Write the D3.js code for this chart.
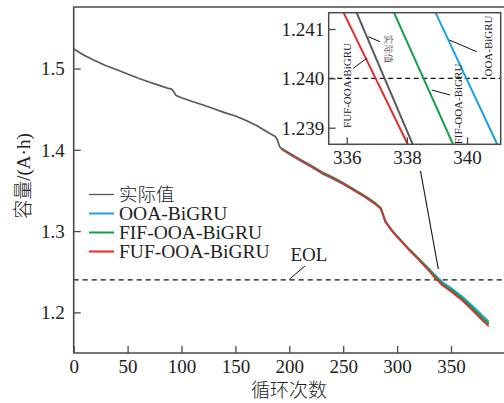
<!DOCTYPE html>
<html>
<head>
<meta charset="utf-8">
<script src="https://cdn.jsdelivr.net/npm/d3@7/dist/d3.min.js"></script>
<style>
  html, body { margin: 0; padding: 0; background: #fff; }
  svg { display: block; }
  text { font-family: "Liberation Serif", "Times New Roman", serif; fill: #222; }
</style>
</head>
<body>
<script>
// Measured battery capacity (A·h) versus cycle number
const actualCycles = [0, 10, 20, 30, 40, 50, 60, 70, 80, 88, 91, 93, 95, 100, 110, 120, 130, 140, 150, 160, 170, 180, 187, 189, 191, 193,
  200, 210, 220, 230, 240, 250, 260, 270, 280, 285, 287, 289, 295, 300, 310, 320, 330,
  335, 336, 337, 338, 339, 340, 341, 342, 350, 360, 370, 380, 385];
const actualValues = [1.5240, 1.5160, 1.5095, 1.5035, 1.4985, 1.4932, 1.4880, 1.4834, 1.4790, 1.4755, 1.4745, 1.4710, 1.4668, 1.4640,
  1.4595, 1.4552, 1.4505, 1.4458, 1.4416, 1.4360, 1.4295, 1.4215, 1.4165, 1.4120, 1.4040, 1.4010,
  1.3955, 1.3875, 1.3800, 1.3720, 1.3655, 1.3585, 1.3505, 1.3425, 1.3335, 1.3275, 1.3200, 1.3120, 1.3010, 1.2935, 1.2790, 1.2655, 1.2515,
  1.24323, 1.24180, 1.24037, 1.23894, 1.23752, 1.23609, 1.23466, 1.23323, 1.2270, 1.2170, 1.2045, 1.1915, 1.1855];

// Model predictions from cycle 193 onward
const predCycles = [193, 200, 210, 220, 230, 240, 250, 260, 270, 280, 285, 287, 289, 295, 300, 310, 320, 330,
  335, 336, 337, 338, 339, 340, 341, 342, 350, 360, 370, 380, 385];
const ooaValues = [1.4005, 1.3945, 1.3865, 1.3790, 1.3710, 1.3645, 1.3577, 1.3498, 1.3418, 1.3330, 1.3272, 1.3190, 1.3115, 1.3008, 1.2935, 1.2795, 1.2665, 1.2530,
  1.24647, 1.24517, 1.24387, 1.24257, 1.24127, 1.23997, 1.23867, 1.23737, 1.2300, 1.2200, 1.2080, 1.1950, 1.1890];
const fifValues = [1.4015, 1.3962, 1.3885, 1.3810, 1.3730, 1.3665, 1.3595, 1.3515, 1.3435, 1.3345, 1.3285, 1.3210, 1.3128, 1.3015, 1.2940, 1.2795, 1.2662, 1.2525,
  1.24483, 1.24347, 1.24211, 1.24075, 1.23939, 1.23803, 1.23666, 1.23530, 1.2285, 1.2180, 1.2055, 1.1925, 1.1865];
const fufValues = [1.4010, 1.3953, 1.3875, 1.3798, 1.3718, 1.3652, 1.3582, 1.3502, 1.3422, 1.3332, 1.3272, 1.3198, 1.3118, 1.3005, 1.2928, 1.2782, 1.2648, 1.2505,
  1.24246, 1.24120, 1.23995, 1.23870, 1.23744, 1.23619, 1.23494, 1.23368, 1.2255, 1.2150, 1.2025, 1.1890, 1.1830];

const seriesNames = ["实际值", "OOA-BiGRU", "FIF-OOA-BiGRU", "FUF-OOA-BiGRU"];
const seriesColors = ["#58595b", "#1ba1e2", "#11a04a", "#e8282b"];

const xTicks = [0, 50, 100, 150, 200, 250, 300, 350];
const yTicks = [1.2, 1.3, 1.4, 1.5];
const insetXTicks = [336, 338, 340];
const insetYTicks = [1.239, 1.240, 1.241];
const eolValue = 1.24;

const W = 504, H = 403;
const svg = d3.select("body").append("svg").attr("width", W).attr("height", H);

const plotL = 73.7, plotR = 504.9, plotT = 7, plotB = 353;
const x = d3.scaleLinear().domain([0, 400]).range([plotL, plotR]);
const y = d3.scaleLinear().domain([1.15, 1.5757]).range([plotB, plotT]);

const axisColor = "#4a4a4a";
const tickFont = 19;
const cjkFont = "'Noto Sans CJK SC', sans-serif";
const latinFont = "'Liberation Serif', serif";

// Build series records
const series = [
  { name: seriesNames[0], color: seriesColors[0], pts: actualCycles.map((c, i) => [c, actualValues[i]]) },
  { name: seriesNames[1], color: seriesColors[1], pts: predCycles.map((c, i) => [c, ooaValues[i]]) },
  { name: seriesNames[2], color: seriesColors[2], pts: predCycles.map((c, i) => [c, fifValues[i]]) },
  { name: seriesNames[3], color: seriesColors[3], pts: predCycles.map((c, i) => [c, fufValues[i]]) }
];

// EOL threshold
svg.append("line")
  .attr("x1", x(0)).attr("x2", W).attr("y1", y(eolValue)).attr("y2", y(eolValue))
  .attr("stroke", "#111").attr("stroke-width", 1.2).attr("stroke-dasharray", "5,4");

// Main curves
const line = d3.line().x(d => x(d[0])).y(d => y(d[1]));
series.forEach((s, i) => {
  svg.append("path").datum(s.pts)
    .attr("d", line).attr("fill", "none")
    .attr("stroke", s.color).attr("stroke-width", 1.7)
    .attr("stroke-linejoin", "round");
});

// Axes (ticks pointing inward)
const xAxis = d3.axisBottom(x).tickValues(xTicks).tickSize(-7).tickPadding(7).tickFormat(d3.format("d"));
const gx = svg.append("g").attr("transform", `translate(0,${plotB})`).call(xAxis);
const yAxis = d3.axisLeft(y).tickValues(yTicks).tickSize(-7).tickPadding(9).tickFormat(d3.format(".1f"));
const gy = svg.append("g").attr("transform", `translate(${plotL},0)`).call(yAxis);
[gx, gy].forEach(g => {
  g.select(".domain").remove();
  g.selectAll(".tick line").attr("stroke", axisColor).attr("stroke-width", 1.3);
  g.selectAll(".tick text").attr("font-size", tickFont).attr("fill", "#222")
    .style("font-family", latinFont);
});
gy.selectAll(".tick text").attr("dy", "0.34em");

// Frame: left, bottom and top edges
svg.append("path")
  .attr("d", `M${W + 2},${plotT}H${plotL}V${plotB}H${W + 2}`)
  .attr("fill", "none").attr("stroke", axisColor).attr("stroke-width", 1.6);

// Axis titles
svg.append("text")
  .attr("x", 289).attr("y", 396.5).attr("text-anchor", "middle")
  .attr("font-size", 19).attr("fill", "#222")
  .style("font-family", cjkFont).style("font-weight", 300)
  .text("循环次数");

const yTitle = svg.append("text")
  .attr("transform", "translate(30,176) rotate(-90)")
  .attr("text-anchor", "middle").attr("font-size", 19).attr("fill", "#222");
yTitle.append("tspan").style("font-family", cjkFont).style("font-weight", 300).text("容量");
yTitle.append("tspan").style("font-family", latinFont).text("/(A·h)");

// Legend
const legendX = 89, legendY0 = 194.5, legendStep = 19;
series.forEach((s, i) => {
  const ly = legendY0 + i * legendStep;
  svg.append("line").attr("x1", legendX).attr("x2", legendX + 25).attr("y1", ly).attr("y2", ly)
    .attr("stroke", s.color).attr("stroke-width", i === 0 ? 1.3 : 2);
  const t = svg.append("text").attr("x", legendX + 30).attr("y", ly).attr("dy", "0.34em")
    .attr("font-size", i === 0 ? 18.5 : 19.5).attr("fill", "#222").text(s.name);
  if (i === 0) t.style("font-family", cjkFont).style("font-weight", 300);
});

// EOL label with leader
svg.append("line").attr("x1", 289.3).attr("y1", 279.3).attr("x2", 305).attr("y2", 266)
  .attr("stroke", "#111").attr("stroke-width", 1);
svg.append("text").attr("x", 290.5).attr("y", 261).attr("font-size", 19).attr("fill", "#222").text("EOL");

// Leader from zoom box to crossing point
svg.append("line").attr("x1", 420.5).attr("y1", 171).attr("x2", 438.3).attr("y2", 269)
  .attr("stroke", "#111").attr("stroke-width", 1.1);

// ---------- Zoomed inset ----------
const iL = 328.7, iR = 500.7, iT = 12.7, iB = 144.3;
const ix = d3.scaleLinear().domain([335.40, 341.12]).range([iL, iR]);
const iy = d3.scaleLinear().domain([1.238664, 1.24133]).range([iB, iT]);

svg.append("rect").attr("x", iL).attr("y", iT).attr("width", iR - iL).attr("height", iB - iT)
  .attr("fill", "#fff");

svg.append("clipPath").attr("id", "insetClip")
  .append("rect").attr("x", iL).attr("y", iT).attr("width", iR - iL).attr("height", iB - iT);

const inset = svg.append("g").attr("clip-path", "url(#insetClip)");
inset.append("line").attr("x1", iL).attr("x2", iR).attr("y1", iy(eolValue)).attr("y2", iy(eolValue))
  .attr("stroke", "#111").attr("stroke-width", 1.2).attr("stroke-dasharray", "5,3.5");

const iline = d3.line().x(d => ix(d[0])).y(d => iy(d[1]));
series.forEach(s => {
  inset.append("path").datum(s.pts.filter(d => d[0] >= 330 && d[0] <= 350))
    .attr("d", iline).attr("fill", "none").attr("stroke", s.color).attr("stroke-width", 2);
});

const ixAxis = d3.axisBottom(ix).tickValues(insetXTicks).tickSize(-7).tickPadding(6).tickFormat(d3.format("d"));
const gix = svg.append("g").attr("transform", `translate(0,${iB})`).call(ixAxis);
const iyAxis = d3.axisLeft(iy).tickValues(insetYTicks).tickSize(-7).tickPadding(4.5).tickFormat(d3.format(".3f"));
const giy = svg.append("g").attr("transform", `translate(${iL},0)`).call(iyAxis);
[gix, giy].forEach(g => {
  g.select(".domain").remove();
  g.selectAll(".tick line").attr("stroke", axisColor).attr("stroke-width", 1.3);
  g.selectAll(".tick text").attr("font-size", tickFont).attr("fill", "#222")
    .style("font-family", latinFont);
});
giy.selectAll(".tick text").attr("dy", "0.34em");

svg.append("rect").attr("x", iL).attr("y", iT).attr("width", iR - iL).attr("height", iB - iT)
  .attr("fill", "none").attr("stroke", axisColor).attr("stroke-width", 1.5);

// Inset annotations
const notes = [
  { text: "FUF-OOA-BiGRU", x: 347, y: 85.5, rot: -90, lead: [353.3, 68.3, 366.7, 58.3], cjk: false, size: 11 },
  { text: "实际值", x: 388.5, y: 49, rot: 90, lead: [368.3, 36.7, 380, 41.7], cjk: true, size: 9.5 },
  { text: "FIF-OOA-BiGRU", x: 458.5, y: 104, rot: -90, lead: [431.7, 90, 450, 95], cjk: false, size: 11 },
  { text: "OOA-BiGRU", x: 488.5, y: 46, rot: -90, lead: [449.3, 40, 476.7, 51.7], cjk: false, size: 11 }
];
notes.forEach(n => {
  svg.append("line").attr("x1", n.lead[0]).attr("y1", n.lead[1]).attr("x2", n.lead[2]).attr("y2", n.lead[3])
    .attr("stroke", "#111").attr("stroke-width", 1);
  const t = svg.append("text")
    .attr("transform", `translate(${n.x},${n.y}) rotate(${n.rot})`)
    .attr("text-anchor", "middle").attr("dy", "0.35em")
    .attr("font-size", n.size).attr("fill", "#444").text(n.text);
  if (n.cjk) t.style("font-family", cjkFont).style("font-weight", 300);
});
</script>
</body>
</html>
